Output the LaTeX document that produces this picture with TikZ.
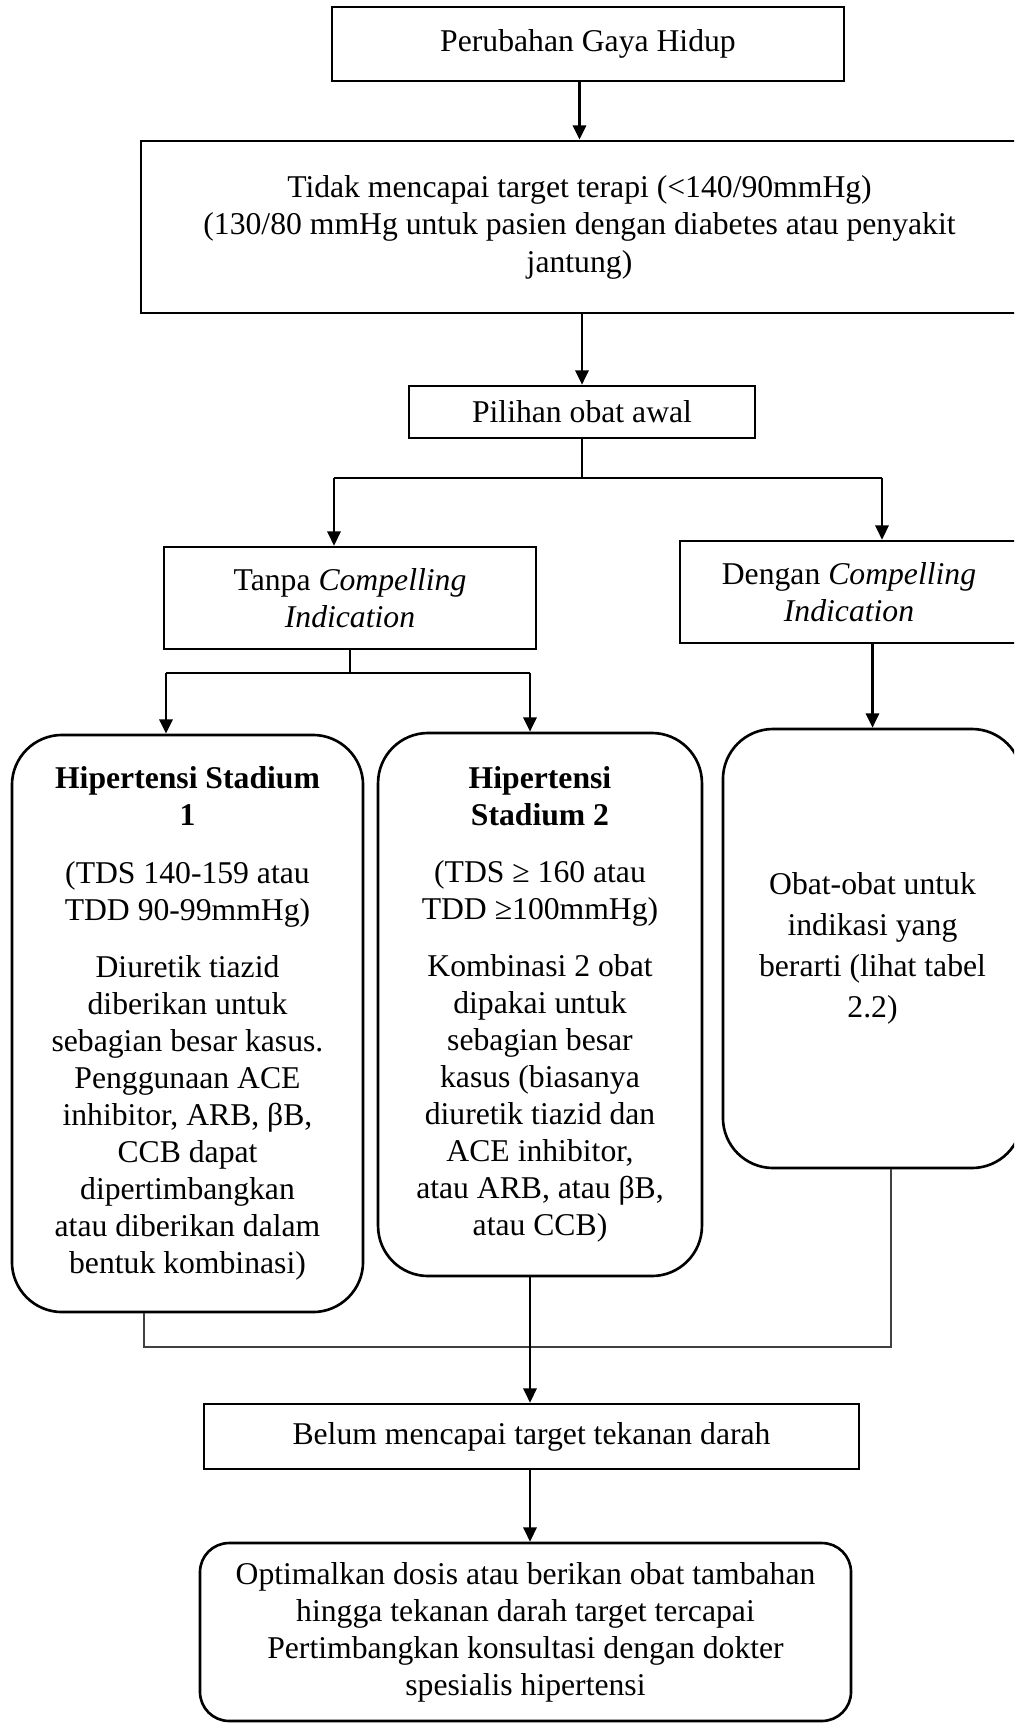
\documentclass[tikz,border=0pt]{standalone}
\usepackage{fontspec}
\setmainfont{Liberation Serif}
\usetikzlibrary{arrows.meta}

\begin{document}
\begin{tikzpicture}[x=0.3788pt, y=-0.3788pt,
  box/.style={draw, line width=1pt, inner sep=0pt, align=center, font=\fontsize{12}{14}\selectfont},
  rbox/.style={box, rounded corners=19pt},
  arr/.style={-{Triangle[length=5.4pt,width=5pt]}, line width=0.95pt},
  stub/.style={line width=0.5pt}]
\useasboundingbox (0,0) rectangle (1014,1724);
\clip (0,0) rectangle (1014,1724);
\node[box, minimum width=194pt, minimum height=28pt] (b0) at (588,44) {Perubahan Gaya Hidup};
\node[box, minimum width=332.2pt, minimum height=65.2pt, font=\fontsize{12}{14.2}\selectfont] (b1) at (579.5,227) {Tidak mencapai target terapi (<140/90mmHg)\\(130/80 mmHg untuk pasien dengan diabetes atau penyakit\\jantung)};
\node[box, minimum width=131pt, minimum height=19.7pt] (b2) at (582,412) {Pilihan obat awal};
\node[box, minimum width=141pt, minimum height=38.6pt] (b3) at (350,598) {Tanpa \textit{Compelling}\\\textit{Indication}};
\node[box, minimum width=128pt, minimum height=38.6pt] (b4) at (849,592) {Dengan \textit{Compelling}\\\textit{Indication}};
\node[rbox, minimum width=133pt, minimum height=218.6pt] (b5) at (187.5,1023.5) {{\bfseries Hipertensi Stadium}\\{\bfseries 1}\\[7.8pt]
  (TDS 140-159 atau\\TDD 90-99mmHg)\\[7.8pt]
  Diuretik tiazid\\diberikan untuk\\sebagian besar kasus.\\Penggunaan ACE\\inhibitor, ARB, βB,\\CCB dapat\\dipertimbangkan\\atau diberikan dalam\\bentuk kombinasi)};
\node[rbox, minimum width=122.7pt, minimum height=205.7pt] (b6) at (540,1004.5) {{\bfseries Hipertensi}\\{\bfseries Stadium 2}\\[7.6pt]
  (TDS ≥ 160 atau\\TDD ≥100mmHg)\\[7.6pt]
  Kombinasi 2 obat\\dipakai untuk\\sebagian besar\\kasus (biasanya\\diuretik tiazid dan\\ACE inhibitor,\\atau ARB, atau βB,\\atau CCB)};
\node[rbox, minimum width=113.3pt, minimum height=166.3pt, font=\fontsize{12}{15.5}\selectfont] (b7) at (872.5,948.5) {Obat-obat untuk\\indikasi yang\\berarti (lihat tabel\\2.2)};
\node[box, minimum width=248.1pt, minimum height=24.6pt] (b8) at (531.5,1436.5) {Belum mencapai target tekanan darah};
\node[rbox, rounded corners=11pt, minimum width=246.6pt, minimum height=67.4pt] (b9) at (525.5,1632) {Optimalkan dosis atau berikan obat tambahan\\hingga tekanan darah target tercapai\\Pertimbangkan konsultasi dengan dokter\\spesialis hipertensi};

% cabang
\coordinate (c0) at (582,478);
\coordinate (c1) at (334,478);
\coordinate (c2) at (882,478);
\coordinate (c3) at (350,673);
\coordinate (c4) at (166,673);
\coordinate (c5) at (530,673);
\coordinate (c6) at (144,1347);
\coordinate (c7) at (891,1347);

\draw[arr] (b1.north |- b0.south) -- (b1.north);
\draw[arr] (b2.north |- b1.south) -- (b2.north);
\draw[stub] (b2) -- (c0);
\draw[line width=0.95pt] (c1) -- (c2);
\draw[arr] (c1) -- (c1 |- b3.north);
\draw[arr] (c2) -- (c2 |- b4.north);
\draw[stub] (b3) -- (c3);
\draw[line width=0.95pt] (c4) -- (c5);
\draw[arr] (c4) -- (c4 |- b5.north);
\draw[arr] (c5) -- (c5 |- b6.north);
\draw[arr] (b7.north |- b4.south) -- (b7.north);
\draw[stub, black!75] (c6 |- b5.south) -- (c6) -- (c7) -- (c7 |- b7.south);
\draw[arr] (b6.south -| c5) -- (b8.north -| c5);
\draw[arr] (b8.south -| c5) -- (b9.north -| c5);

\end{tikzpicture}
\end{document}
